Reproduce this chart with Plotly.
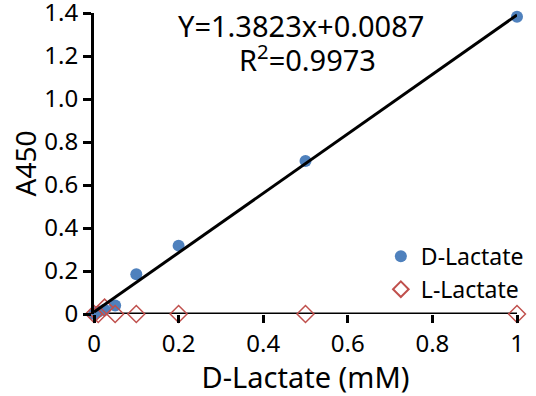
import plotly.graph_objects as go

conc = [0, 0.01, 0.025, 0.05, 0.1, 0.2, 0.5, 1]
d_lactate = [0, 0.01, 0.02, 0.04, 0.185, 0.318, 0.712, 1.383]
l_lactate = [0, 0.0, 0.03, 0.0, 0.0, 0.0, 0.0, 0.0]
slope, intercept = 1.3823, 0.0087
fit_x = [0, 1]
fit_y = [slope * x + intercept for x in fit_x]

ytick_vals = [0, 0.2, 0.4, 0.6, 0.8, 1.0, 1.2, 1.4]
ytick_text = ["0", "0.2", "0.4", "0.6", "0.8", "1.0", "1.2", "1.4"]
xtick_vals = [0, 0.2, 0.4, 0.6, 0.8, 1]
xtick_text = ["0", "0.2", "0.4", "0.6", "0.8", "1"]

FONT = "Noto Sans"

fig = go.Figure()
fig.add_trace(go.Scatter(x=conc, y=d_lactate, mode="markers", name="D-Lactate",
                         marker=dict(symbol="circle", size=12, color="#4F81BD"),
                         cliponaxis=False))
fig.add_trace(go.Scatter(x=conc, y=l_lactate, mode="markers", name="L-Lactate",
                         marker=dict(symbol="diamond-open", size=13, color="#C0504D",
                                     line=dict(width=1.5, color="#C0504D")),
                         cliponaxis=False))
fig.add_trace(go.Scatter(x=fit_x, y=fit_y, mode="lines", showlegend=False,
                         line=dict(color="black", width=3), cliponaxis=False))

fig.update_layout(
    width=536, height=396,
    margin=dict(l=94, r=19, t=13, b=82, autoexpand=False),
    paper_bgcolor="white", plot_bgcolor="white",
    font=dict(family=FONT, color="black", size=24),
    showlegend=True,
    legend=dict(x=1.028, y=0.263, xanchor="right", yanchor="top",
                font=dict(size=23, family=FONT), bgcolor="rgba(0,0,0,0)",
                itemsizing="constant", tracegroupgap=0, itemwidth=30),
    xaxis=dict(range=[0, 1], tickvals=xtick_vals, ticktext=xtick_text,
               showgrid=False, zeroline=False, showline=False, automargin=False,
               ticks="outside", ticklen=8, tickwidth=3, tickcolor="black",
               ticklabeloverflow="allow",
               tickfont=dict(size=24, family=FONT),
               title=dict(text="D-Lactate (mM)", font=dict(size=29, family=FONT), standoff=2)),
    yaxis=dict(range=[0, 1.4], tickvals=ytick_vals, ticktext=ytick_text,
               showgrid=False, zeroline=False, showline=True, linewidth=3, linecolor="black",
               automargin=False, ticklabeloverflow="allow",
               ticks="outside", ticklen=8, tickwidth=3, tickcolor="black",
               tickfont=dict(size=24, family=FONT),
               title=dict(text="A450", font=dict(size=28, family=FONT), standoff=0)),
    shapes=[dict(type="line", xref="paper", yref="y", x0=0, x1=1, y0=0, y1=0,
                 line=dict(color="black", width=3), layer="below")],
    annotations=[
        dict(text="Y=1.3823x+0.0087", xref="paper", yref="paper",
             x=(301 - 94) / 423, y=(314 - 25) / 301, xanchor="center", yanchor="middle",
             showarrow=False, font=dict(size=29, family=FONT)),
        dict(text="R<sup>2</sup>=0.9973", xref="paper", yref="paper",
             x=(307 - 94) / 423, y=(314 - 58) / 301, xanchor="center", yanchor="middle",
             showarrow=False, font=dict(size=29, family=FONT)),
    ],
)

fig.write_html("out.html", config={"displayModeBar": False},
               post_script="document.body.style.margin='0';")
